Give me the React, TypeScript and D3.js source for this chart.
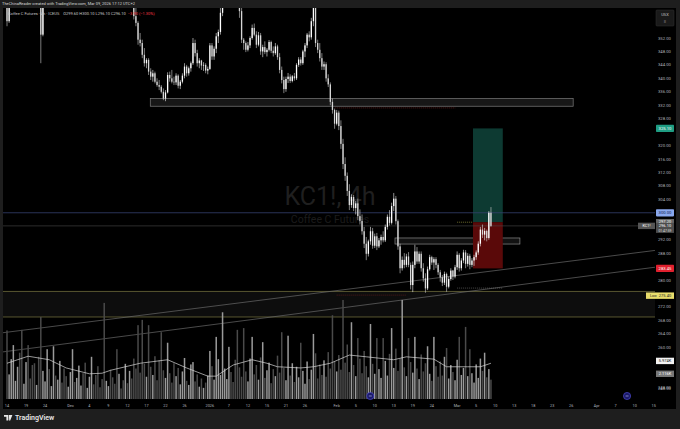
import React from 'react';
import * as d3 from 'd3';

// ---------- data ----------
const opens = [
  366, 357, 366.5, 372, 376, 379, 382, 380, 377, 379,
  384, 382, 378, 374, 371, 373, 369, 353, 369.5, 374,
  377, 375, 380, 384, 382, 383, 387, 385, 382, 379,
  381, 384, 389, 386, 388, 391, 393, 391, 388, 390,
  394, 397, 395, 392, 390, 387, 385, 380, 382, 384,
  381, 378, 376, 373, 375, 374, 371, 372, 369, 370,
  368, 358.5, 356.5, 351.5, 350.5, 347, 344.5, 345.5, 342, 340.5,
  341.5, 339, 338, 337.5, 336, 334, 335.8, 341, 340, 339,
  338.8, 340.8, 337.8, 339, 340.8, 343.5, 341.5, 343, 344.5, 350.5,
  347.5, 344.5, 345.3, 343.8, 344, 342.3, 342.8, 349.8, 346.5, 348.8,
  352.5, 353.8, 359.5, 370, 375, 379, 383, 380, 378, 374,
  368, 360, 351.5, 350.5, 348.5, 349.8, 352, 355, 353, 350,
  352.8, 348, 349.3, 347.8, 348.5, 350.8, 348.2, 347.5, 349.5, 346.3,
  342.5, 339.5, 336.8, 339.8, 340.5, 339.2, 340.6, 340, 344, 345.6,
  344.5, 348, 349.8, 353, 352.2, 357, 362.5, 350.5, 348.5, 346,
  343.5, 344.2, 340, 338.2, 333, 330.6, 326.5, 329.8, 325.8, 320.5,
  314.5, 311, 306.5, 302.3, 304.7, 301.4, 302.8, 299, 297.6, 294.5,
  290.8, 287.8, 291.5, 294.5, 290.2, 293, 290, 291.8, 292.8, 291.8,
  295.8, 298.8, 297, 302, 304.2, 297.5, 290, 283.5, 286, 284.5,
  287, 284.5, 278.5, 284.5, 288.5, 285.5, 287.8, 283.5, 280.5, 277.5,
  283.2, 286.8, 285.2, 286.2, 284.5, 282.3, 280.8, 279.2, 281.8, 278,
  280.3, 282.8, 281, 283.8, 287.5, 283.5, 285.8, 288.2, 284.8, 287.2,
  284.5, 285.8, 286.8, 288.2, 290.8, 295, 293.5, 294.6, 292.5, 300,
];
const highs = [
  367, 368, 374, 378, 381, 383, 386, 384, 381, 385,
  388, 384, 380, 377, 375, 376, 370, 371, 376, 379,
  380, 382, 386, 387, 385, 389, 390, 388, 384, 383,
  385, 391, 392, 390, 393, 395, 397, 394, 391, 396,
  399, 400, 398, 395, 393, 390, 392, 384, 386, 387,
  383, 381, 379, 377, 378, 376, 374, 375, 372, 373,
  370, 361, 357, 353.5, 351.5, 349, 346, 346, 343, 342.5,
  342, 340, 339.5, 338, 337, 336.5, 341.8, 342, 342.5, 340.5,
  341.5, 341.2, 339.5, 341.5, 344.5, 344, 343.5, 345, 352, 351.5,
  348.5, 346, 345.5, 344.8, 344.5, 343.5, 350.5, 350.5, 349.5, 353.5,
  354.5, 361, 372, 377, 381, 385, 386, 384, 381, 376,
  370, 361, 352, 351, 350.8, 352.5, 356, 356.3, 354, 353.8,
  353.5, 350, 351, 349, 351.4, 351.2, 349.5, 350.5, 350, 347.5,
  343.5, 340.5, 340.5, 341.6, 341.2, 341, 341.6, 344.5, 346.3, 346.3,
  348.5, 350.5, 353.5, 354, 358, 364, 365, 351.5, 350.5, 347.5,
  345, 344.8, 341.2, 338.8, 334, 331, 330.6, 330.4, 327.5, 322,
  316.5, 312, 308.5, 305.5, 305.3, 303.5, 304.2, 301, 299.5, 295.8,
  292.8, 292, 295.8, 295.5, 293.8, 294, 292.5, 293.5, 294.5, 296.5,
  299.5, 300.8, 303, 305.9, 305, 298, 290.8, 287, 288, 287.8,
  288.3, 285.2, 285.5, 290.5, 289.8, 288.5, 288.5, 285, 282, 284,
  287.5, 287.2, 286.8, 286.8, 285, 283, 281.5, 282.5, 282.2, 281,
  283.5, 283, 284.5, 288.5, 288, 286.5, 289, 288.9, 288, 287.8,
  286.5, 287.5, 288.8, 291.5, 295.8, 296.5, 295.5, 295, 300.5, 301.7,
];
const lows = [
  355.5, 356.5, 365, 370, 374, 377, 379, 375, 374, 378,
  381, 377, 372, 369, 367, 368, 344.5, 352.5, 368, 372,
  373, 374, 378, 381, 379, 382, 384, 381, 377, 377,
  378, 383, 385, 384, 386, 389, 390, 387, 385, 389,
  392, 393, 391, 388, 386, 383, 378, 377, 379, 380,
  376, 374, 371, 371, 372, 369, 368, 368, 366, 366,
  357.5, 355.5, 350, 349.5, 346, 343.5, 343, 341, 339.5, 339,
  338.5, 337.5, 336.5, 335.5, 333.5, 333.2, 335.5, 339, 338.5, 338,
  338, 337, 336.8, 338.5, 340, 340.5, 340.8, 342, 344, 346.5,
  343.5, 343, 342.5, 342.2, 341.5, 341.2, 342.5, 345.5, 345.5, 347.5,
  350.5, 353, 358.5, 369, 373, 377, 378, 376, 372, 366,
  358, 350.5, 348.5, 347.8, 348, 349, 351.5, 352.5, 349, 349.5,
  347, 346.3, 347.2, 346.5, 348, 347.5, 346.5, 347, 345.5, 341.5,
  338.5, 335.6, 336, 338.6, 338.6, 338.8, 339.3, 339.5, 343.4, 343.8,
  344, 346.3, 349, 351, 351.5, 355.5, 349.3, 347.5, 345, 342.5,
  342.5, 339, 337.4, 332, 329.5, 325, 326, 324.6, 319, 313,
  309.5, 305, 300.8, 301.5, 300.5, 299.5, 297.8, 296.5, 293.5, 289.5,
  285.9, 287, 290.5, 289.3, 289.5, 288.9, 289.5, 290.5, 291.2, 291.3,
  295, 296.2, 296.5, 300.5, 296.5, 289, 282, 282.8, 283.5, 283.8,
  283.8, 277.2, 276.4, 283.5, 284.8, 284.8, 282.5, 279.5, 276.2, 277,
  282.8, 284.5, 283, 283.5, 281.5, 279.5, 278.2, 278.5, 276.5, 277.5,
  279.8, 280, 280.5, 283, 282.5, 282.8, 285, 283.5, 284, 283.2,
  283.8, 284.2, 286, 287.5, 290, 292.5, 291.8, 291.5, 292, 295.8,
];
const closes = [
  357, 366.5, 372, 376, 379, 382, 380, 377, 379, 384,
  382, 378, 374, 371, 373, 369, 353, 369.5, 374, 377,
  375, 380, 384, 382, 383, 387, 385, 382, 379, 381,
  384, 389, 386, 388, 391, 393, 391, 388, 390, 394,
  397, 395, 392, 390, 387, 385, 380, 382, 384, 381,
  378, 376, 373, 375, 374, 371, 372, 369, 370, 368,
  358.5, 356.5, 351.5, 350.5, 347, 344.5, 345.5, 342, 340.5, 341.5,
  339, 338, 337.5, 336, 334, 335.8, 341, 340, 339, 338.8,
  340.8, 337.8, 339, 340.8, 343.5, 341.5, 343, 344.5, 350.5, 347.5,
  344.5, 345.3, 343.8, 344, 342.3, 342.8, 349.8, 346.5, 348.8, 352.5,
  353.8, 359.5, 370, 375, 379, 383, 380, 378, 374, 368,
  360, 351.5, 350.5, 348.5, 349.8, 352, 355, 353, 350, 352.8,
  348, 349.3, 347.8, 348.5, 350.8, 348.2, 347.5, 349.5, 346.3, 342.5,
  339.5, 336.8, 339.8, 340.5, 339.2, 340.6, 340, 344, 345.6, 344.5,
  348, 349.8, 353, 352.2, 357, 362.5, 350.5, 348.5, 346, 343.5,
  344.2, 340, 338.2, 333, 330.6, 326.5, 329.8, 325.8, 320.5, 314.5,
  311, 306.5, 302.3, 304.7, 301.4, 302.8, 299, 297.6, 294.5, 290.8,
  287.8, 291.5, 294.5, 290.2, 293, 290, 291.8, 292.8, 291.8, 295.8,
  298.8, 297, 302, 304.2, 297.5, 290, 283.5, 286, 284.5, 287,
  284.5, 278.5, 284.5, 288.5, 285.5, 287.8, 283.5, 280.5, 277.5, 283.2,
  286.8, 285.2, 286.2, 284.5, 282.3, 280.8, 279.2, 281.8, 278, 280.3,
  282.8, 281, 283.8, 287.5, 283.5, 285.8, 288.2, 284.8, 287.2, 284.5,
  285.8, 286.8, 288.2, 290.8, 295, 293.5, 294.6, 292.5, 300, 296.1,
];
// volume in thousands of contracts
const volumes = [
  11.7, 4.2, 6.8, 9.2, 3.1, 5.5, 7.9, 11.8, 2.6, 6.3,
  9.2, 3.5, 5.8, 6.1, 2.4, 7.2, 14.0, 4.8, 3.0, 8.5,
  5.1, 2.2, 9.0, 4.0, 3.3, 6.5, 2.8, 5.2, 3.9, 2.1,
  4.6, 8.5, 2.9, 3.6, 5.7, 2.3, 4.4, 6.2, 1.9, 3.8,
  7.2, 2.5, 4.1, 5.6, 2.0, 3.4, 16.4, 3.1, 2.2, 5.0,
  3.7, 2.6, 8.5, 4.3, 1.8, 3.2, 6.0, 2.7, 4.8, 3.5,
  6.9, 5.2, 12.6, 4.5, 13.5, 6.0, 3.8, 12.6, 5.5, 4.1,
  7.3, 3.2, 6.6, 11.4, 4.9, 3.6, 9.6, 4.4, 2.8, 6.1,
  3.9, 5.3, 2.5, 4.7, 7.0, 3.1, 2.4, 5.9, 6.3, 3.0,
  4.2, 2.1, 3.5, 1.9, 2.8, 4.0, 8.2, 5.6, 3.3, 10.6,
  6.8, 4.1, 14.8, 5.2, 3.4, 8.9, 4.6, 2.9, 6.7, 11.8,
  5.4, 3.8, 12.1, 4.7, 3.0, 6.9, 10.6, 4.2, 5.8, 3.3,
  7.1, 9.7, 3.6, 4.9, 6.2, 2.7, 5.1, 3.9, 7.4, 4.5,
  11.4, 5.3, 3.2, 10.8, 4.0, 6.1, 2.9, 5.5, 3.7, 9.6,
  4.8, 2.6, 6.4, 3.4, 5.0, 11.1, 7.8, 3.5, 5.9, 4.1,
  6.6, 3.8, 8.0, 5.2, 14.3, 6.4, 4.7, 7.5, 5.0, 16.9,
  6.2, 9.3, 4.6, 13.1, 5.8, 3.9, 10.4, 6.9, 4.4, 8.2,
  5.6, 3.7, 12.8, 6.0, 4.3, 10.4, 5.1, 3.6, 10.4, 6.5,
  4.0, 7.7, 12.1, 5.3, 8.6, 4.8, 6.9, 16.9, 5.4, 3.9,
  10.4, 6.3, 4.5, 10.6, 5.2, 3.4, 7.6, 4.7, 6.1, 9.0,
  4.3, 3.1, 10.6, 5.6, 3.8, 6.4, 4.0, 7.2, 8.7, 3.5,
  5.8, 4.6, 3.2, 6.7, 10.6, 4.1, 5.3, 12.3, 3.9, 8.5,
  4.4, 2.8, 5.9, 3.6, 6.9, 4.8, 7.9, 3.7, 5.1, 3.3,
];
// volume moving average: [bar index, value K]
const volMaBars = [0, 10, 20, 28, 39, 45, 49, 63, 76, 85, 95, 99, 107, 116, 123, 128, 139, 145, 153, 162, 170, 183, 189, 202, 208, 218, 224, 229];
const volMaVals = [6.1, 7.3, 6.7, 5.3, 4.3, 4.4, 4.9, 6.1, 6.7, 5.3, 3.9, 3.9, 5.8, 6.7, 6.1, 5.5, 5.3, 5.5, 6.1, 7.5, 7.2, 6.7, 7.2, 6.8, 5.5, 5.5, 5.5, 6.1];

// x axis: trading-day index of each label
const xTickLabels = ['14', '19', '24', 'Dec', '4', '9', '12', '17', '22', '26', '2026', '7', '12', '15', '21', '26', 'Feb', '5', '10', '13', '19', '24', 'Mar', '5', '10', '13', '18', '23', '26', 'Apr', '7', '10', '15'];
const xTickDays = [0, 3, 6, 10, 13, 16, 19, 22, 25, 28, 32, 35, 38, 41, 44, 47, 52, 55, 58, 61, 64, 67, 71, 74, 77, 80, 83, 86, 89, 93, 96, 99, 102];
const priceTicks = [352, 348, 344, 340, 336, 332, 328, 320, 316, 312, 308, 304, 292, 288, 280, 272, 268, 264, 260, 248];
const eventDays = [57.3, 97.8];

// drawing levels (prices) and spans (trading days)
const zoneUpper = [334.0, 331.7];
const zoneUpperDays = [22.6, 89.3];
const zoneMid = [292.5, 290.7];
const zoneMidDays = [61.2, 80.9];
const supportBand = [276.6, 269.0];
const alertLevel = 300.0;
const lastPrice = 296.1;
const entryPrice = 297.2;
const targetPrice = 325.1;
const stopPrice = 283.45;
const positionDays = [73.5, 78.2];
const trend1 = [[-1.1, 264.2], [102.2, 288.8]];
const trend2 = [[-1.1, 258.5], [102.2, 283.8]];
const barsPerDay = 3;

const FONT = 'Roboto, "Noto Sans", sans-serif';

export default function App() {
  const W = 680, H = 429;
  const L = 3, R = 655, T = 8, B = 400;
  const x = d3.scaleLinear().domain([0, 102]).range([7, 7 + 102 * 6.34]);
  const bx = (b: number) => x(b / barsPerDay);
  const y = d3.scaleLinear().domain([352, 280]).range([38, 280]);
  const yv = d3.scaleLinear().domain([0, 10]).range([399, 340.4]);

  const maLine = d3.line<number>()
    .x((_, i) => bx(volMaBars[i]))
    .y((v) => yv(v))(volMaVals) || '';

  const bw = 1.3;

  const axisLabel = (p: number, text: string, bg: string, fg: string, key: string) => (
    <g key={key}>
      <rect x={656} y={y(p) - 3.6} width={18} height={7.2} rx={0.8} fill={bg} />
      <text x={665} y={y(p) + 1.5} fontSize={4.2} fill={fg} textAnchor="middle" fontFamily={FONT}>{text}</text>
    </g>
  );

  return (
    <svg width={W} height={H} style={{ position: 'fixed', left: 0, top: 0, display: 'block' }}>
      <defs>
        <clipPath id="plot"><rect x={L} y={T} width={R - L} height={B - T} /></clipPath>
      </defs>
      <rect width={W} height={H} fill="#000" />
      {/* frame */}
      <rect x={0} y={0} width={W} height={T} fill="#1e1e1e" />
      <rect x={0} y={0} width={L} height={H} fill="#1e1e1e" />
      <rect x={676} y={0} width={4} height={H} fill="#1e1e1e" />
      <rect x={0} y={409} width={W} height={20} fill="#1e1e1e" />

      <g clipPath="url(#plot)">
        {/* watermark */}
        <text x={330} y={205} fontSize={25} fill="#1f1f1f" textAnchor="middle" fontFamily={FONT}>KC1!, 4h</text>
        <text x={330} y={222.5} fontSize={10.5} fill="#1c1c1c" textAnchor="middle" fontFamily={FONT}>Coffee C Futures</text>

        {/* support band */}
        <rect x={L} y={y(supportBand[0])} width={R - L} height={y(supportBand[1]) - y(supportBand[0])} fill="#0d0d0d" />
        <line x1={L} x2={R} y1={y(supportBand[0])} y2={y(supportBand[0])} stroke="#6f6c3c" strokeWidth={0.8} />
        <line x1={L} x2={R} y1={y(supportBand[1])} y2={y(supportBand[1])} stroke="#6f6c3c" strokeWidth={0.8} />

        {/* trend lines */}
        {[trend1, trend2].map((t, i) => (
          <line key={i} x1={x(t[0][0])} y1={y(t[0][1])} x2={x(t[1][0])} y2={y(t[1][1])} stroke="#6a6a6a" strokeWidth={0.7} />
        ))}

        {/* volume */}
        {volumes.map((v, i) => (
          <rect key={i} x={bx(i) - 0.75} y={yv(v)} width={1.5} height={yv(0) - yv(v)}
            fill={closes[i] >= opens[i] ? '#9a9a9a' : '#4a4a4a'} />
        ))}
        <path d={maLine} fill="none" stroke="#d8d8d8" strokeWidth={0.7} />

        {/* zones */}
        <rect x={x(zoneUpperDays[0])} y={y(zoneUpper[0])} width={x(zoneUpperDays[1]) - x(zoneUpperDays[0])}
          height={y(zoneUpper[1]) - y(zoneUpper[0])} fill="#171717" stroke="#7c7c7c" strokeWidth={0.7} />
        <rect x={x(zoneMidDays[0])} y={y(zoneMid[0])} width={x(zoneMidDays[1]) - x(zoneMidDays[0])}
          height={y(zoneMid[1]) - y(zoneMid[0])} fill="#121212" stroke="#8a8a8a" strokeWidth={0.7} />

        {/* position tool */}
        <rect x={x(positionDays[0])} y={y(targetPrice)} width={x(positionDays[1]) - x(positionDays[0])}
          height={y(entryPrice) - y(targetPrice)} fill="#0d3a32" />
        <rect x={x(positionDays[0])} y={y(entryPrice)} width={x(positionDays[1]) - x(positionDays[0])}
          height={y(stopPrice) - y(entryPrice)} fill="#5a0909" />

        {/* level lines */}
        <line x1={L} x2={R} y1={y(alertLevel)} y2={y(alertLevel)} stroke="#33406e" strokeWidth={0.8} />
        <line x1={L} x2={R} y1={y(lastPrice)} y2={y(lastPrice)} stroke="#4a4a4a" strokeWidth={0.6} />
        <line x1={x(51.7)} x2={x(70.7)} y1={y(331.2)} y2={y(331.2)} stroke="#8a2525" strokeWidth={0.6} strokeDasharray="1 1" />
        <line x1={x(52)} x2={x(63)} y1={y(275.5)} y2={y(275.5)} stroke="#7a2222" strokeWidth={0.6} strokeDasharray="1 1" />
        <line x1={x(71)} x2={x(78.2)} y1={y(277.6)} y2={y(277.6)} stroke="#777" strokeWidth={0.6} strokeDasharray="1 1" />
        <line x1={x(71)} x2={x(73.5)} y1={y(entryPrice)} y2={y(entryPrice)} stroke="#b5b24a" strokeWidth={0.6} strokeDasharray="1 1" />

        {/* candles */}
        {closes.map((c, i) => {
          const o = opens[i];
          const up = c >= o;
          const top = y(Math.max(o, c));
          const h = Math.max(0.6, y(Math.min(o, c)) - top);
          return (
            <g key={i}>
              <line x1={bx(i)} x2={bx(i)} y1={y(highs[i])} y2={y(lows[i])} stroke={up ? '#f2f2f2' : '#cfcfcf'} strokeWidth={0.6} />
              <rect x={bx(i) - bw / 2} y={top} width={bw} height={h} fill={up ? '#ffffff' : '#d6d6d6'} />
            </g>
          );
        })}
      </g>

      {/* event markers */}
      {eventDays.map((d, i) => (
        <g key={i}>
          <circle cx={x(d)} cy={396} r={3.6} fill="#1b1a6a" stroke="#5552e0" strokeWidth={0.6} />
          <path d={`M${x(d) - 1.5},${396} h3`} stroke="#c9c9ff" strokeWidth={0.6} />
        </g>
      ))}

      {/* x axis */}
      {xTickLabels.map((t, i) => (
        <text key={i} x={x(xTickDays[i])} y={406.5} fontSize={3.8} fill="#b2b5be" textAnchor="middle" fontFamily={FONT}>{t}</text>
      ))}

      {/* price axis */}
      {priceTicks.map((p) => (
        <text key={p} x={658} y={y(p) + 1.5} fontSize={4.2} fill="#b2b5be" fontFamily={FONT}>{p.toFixed(2)}</text>
      ))}
      <rect x={656} y={10} width={18} height={16} rx={1} fill="#1a1a1a" stroke="#333" strokeWidth={0.5} />
      <text x={665} y={16} fontSize={4} fill="#c8c8c8" textAnchor="middle" fontFamily={FONT}>USX</text>
      <text x={665} y={23} fontSize={4} fill="#c8c8c8" textAnchor="middle" fontFamily={FONT}>≡</text>
      {axisLabel(targetPrice, targetPrice.toFixed(2), '#1f9d83', '#fff', 'tp')}
      {axisLabel(alertLevel, alertLevel.toFixed(2), '#8aa8ee', '#0b1a4a', 'al')}
      <rect x={656} y={y(entryPrice) - 3.2} width={18} height={6} fill="#666" />
      <text x={665} y={y(entryPrice) + 1.2} fontSize={4} fill="#fff" textAnchor="middle" fontFamily={FONT}>{entryPrice.toFixed(2)}</text>
      <rect x={638} y={y(lastPrice) - 3.2} width={17} height={6.4} fill="#555" />
      <text x={646.5} y={y(lastPrice) + 1.3} fontSize={3.8} fill="#fff" textAnchor="middle" fontFamily={FONT}>KC1!</text>
      <rect x={656} y={y(lastPrice) - 3} width={18} height={10} fill="#4d4d4d" />
      <text x={665} y={y(lastPrice) + 1.5} fontSize={4} fill="#fff" textAnchor="middle" fontFamily={FONT}>{lastPrice.toFixed(2)}</text>
      <text x={665} y={y(lastPrice) + 5.8} fontSize={3.4} fill="#ddd" textAnchor="middle" fontFamily={FONT}>01:47:59</text>
      {axisLabel(stopPrice, stopPrice.toFixed(2), '#e0202e', '#fff', 'sl')}
      <rect x={646} y={y(275.4) - 3} width={28} height={6.4} fill="#e9dd6c" />
      <text x={650} y={y(275.4) + 1.4} fontSize={3.6} fill="#222" fontFamily={FONT}>Low</text>
      <text x={665} y={y(275.4) + 1.4} fontSize={4} fill="#222" textAnchor="middle" fontFamily={FONT}>275.40</text>
      <rect x={656} y={yv(6.5) - 3.2} width={18} height={6.4} fill="#f2f2f2" />
      <text x={665} y={yv(6.5) + 1.4} fontSize={4} fill="#111" textAnchor="middle" fontFamily={FONT}>5.974K</text>
      <rect x={656} y={yv(4.3) - 3.2} width={18} height={6.4} fill="#777" />
      <text x={665} y={yv(4.3) + 1.4} fontSize={4} fill="#fff" textAnchor="middle" fontFamily={FONT}>2.116K</text>
      <text x={658} y={yv(1.8) + 1.5} fontSize={4.2} fill="#b2b5be" fontFamily={FONT}>248.00</text>

      {/* header */}
      <text x={2} y={5.3} fontSize={4} fill="#d8d8d8" fontFamily={FONT}>TheChinaReader created with TradingView.com, Mar 09, 2026 17:12 UTC+2</text>
      <text x={8} y={14.5} fontSize={4} fill="#c8c8c8" fontFamily={FONT}>
        Coffee C Futures · 4h · ICEUS
        <tspan dx={4}>O299.60 H300.10 L296.10 C296.10</tspan>
        <tspan fill="#f23645" dx={2}>−3.90 (−1.30%)</tspan>
      </text>

      {/* footer logo */}
      <g transform="translate(4,415)">
        <path d="M0,0 h4.2 v5.6 h-1.8 v-3.8 h-2.4 z M4.8,0 h1.6 l-1.6,5.6 z M6.2,0 h2.2 l-2.2,5.6 h-1.2 z" fill="#e8e8e8" />
        <text x={11} y={5.4} fontSize={7} fill="#e8e8e8" fontWeight={600} fontFamily={FONT}>TradingView</text>
      </g>
    </svg>
  );
}
